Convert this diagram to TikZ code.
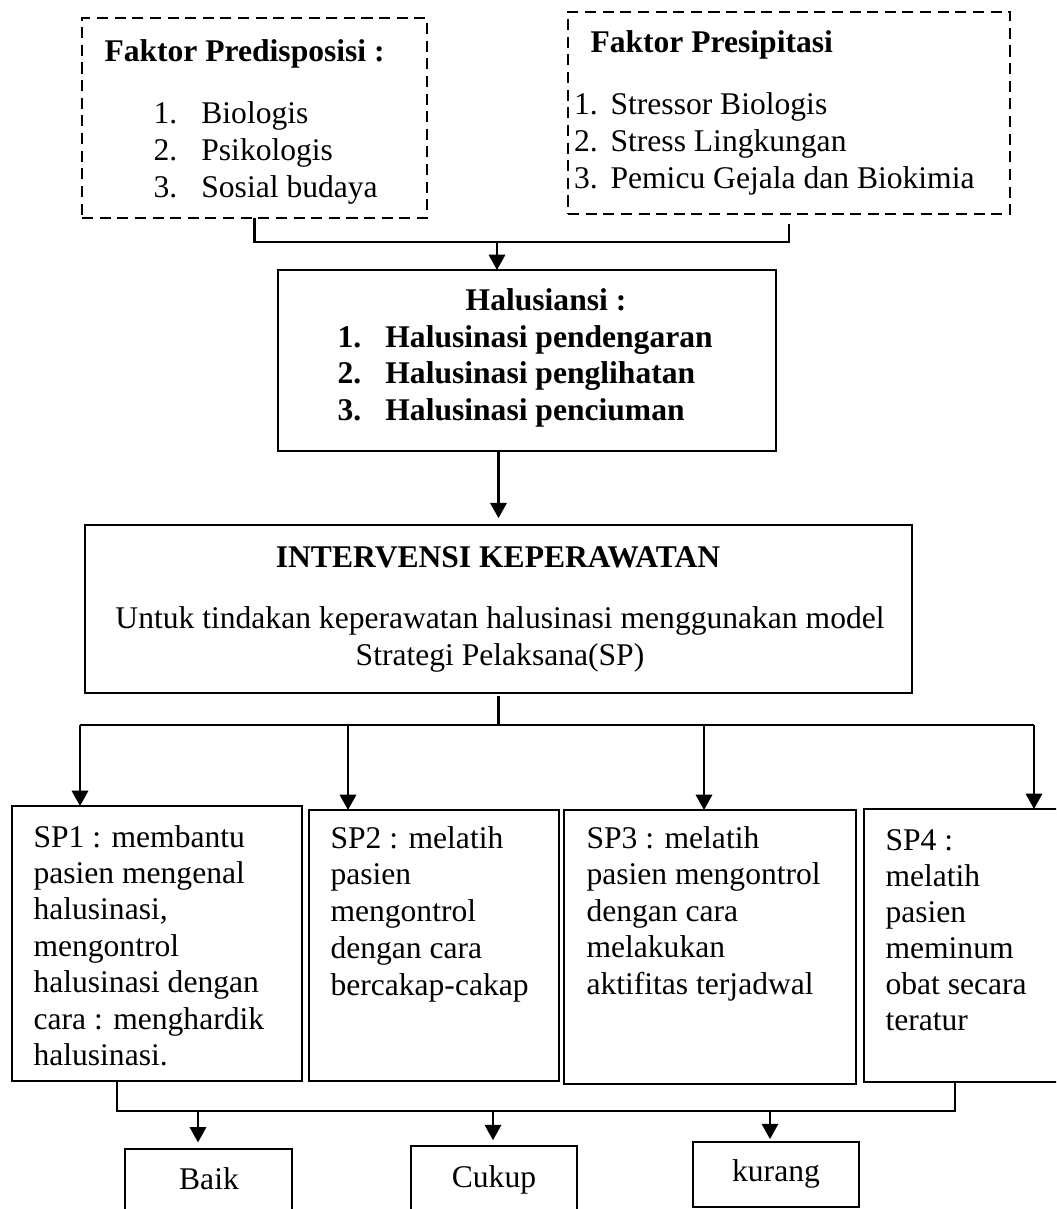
\documentclass[tikz,border=0pt]{standalone}
\usepackage{fontspec}
\setmainfont{Liberation Serif}
\usetikzlibrary{fit,calc,arrows.meta}
\newlength\numw
\newcommand\tlines[3]{\parbox[t]{#1}{\raggedright\baselineskip=#2\relax #3\par}}
\newcommand\nl[2]{\makebox[\numw][l]{#1}#2}
\tikzset{
  ln/.style={line width=0.85pt},
  arr/.style={ln,-{Triangle[length=5.8pt,width=6.2pt]}},
  box/.style={draw,ln,inner sep=0pt,outer sep=0pt},
  dbox/.style={box,line width=0.95pt,dash pattern=on 4.2pt off 2.5pt},
  txt/.style={inner sep=0pt,font=\fontsize{12pt}{14pt}\selectfont},
}
\begin{document}
\begin{tikzpicture}[x=0.38pt,y=-0.38pt]
\useasboundingbox (0,0) rectangle (1056,1209);
\clip (0,0) rectangle (1056,1209);

% boxes
\node[dbox,fit={(82,18) (427,218)}] (pred) {};
\node[dbox,fit={(568,12) (1010,214)}] (pres) {};
\node[box,fit={(278,270) (776,451)}] (hal) {};
\node[box,fit={(85,525) (912,693)}] (int) {};
\node[box,fit={(12,806) (302,1081)}] (sp1) {};
\node[box,fit={(309,810) (559,1081)}] (sp2) {};
\node[box,fit={(564,810) (856,1084)}] (sp3) {};
\node[box,fit={(864,809) (1075,1082)}] (sp4) {};
\node[box,fit={(125,1149) (292,1220)}] (baik) {};
\node[box,fit={(411,1146) (577,1220)}] (cukup) {};
\node[box,fit={(693,1142) (859,1207)}] (kurang) {};

% texts
\node[txt,anchor=base west] (predt) at (104,61) {\textbf{Faktor Predisposisi :}};
\node[txt,anchor=base west] (predl) at (153,123) {\setlength\numw{18.2pt}\tlines{120pt}{14.06pt}{\nl{1.}{Biologis}\\\nl{2.}{Psikologis}\\\nl{3.}{Sosial budaya}}};
\node[txt,anchor=base west] (prest) at (590,52) {\textbf{Faktor Presipitasi}};
\node[txt,anchor=base west] (presl) at (573.5,114.5) {\setlength\numw{13.9pt}\tlines{170pt}{14.1pt}{\nl{1.}{Stressor Biologis}\\\nl{2.}{Stress Lingkungan}\\\nl{3.}{Pemicu Gejala dan Biokimia}}};
\node[txt,anchor=base] (halt) at (546,310) {\textbf{Halusiansi :}};
\node[txt,anchor=base west] (hall) at (337,347) {\bfseries\setlength\numw{18.2pt}\tlines{170pt}{13.87pt}{\nl{1.}{Halusinasi pendengaran}\\\nl{2.}{Halusinasi penglihatan}\\\nl{3.}{Halusinasi penciuman}}};
\node[txt,anchor=base] (intt) at (498,567) {\textbf{INTERVENSI KEPERAWATAN}};
\node[txt,anchor=base] (intl1) at (500,628) {Untuk tindakan keperawatan halusinasi menggunakan model};
\node[txt,anchor=base] (intl2) at (500,665) {Strategi Pelaksana(SP)};
\node[txt,anchor=base west] (sp1t) at (33,847) {\tlines{110pt}{13.85pt}{SP1 : membantu\\pasien mengenal\\halusinasi,\\mengontrol\\halusinasi dengan\\cara : menghardik\\halusinasi.}};
\node[txt,anchor=base west] (sp2t) at (330,848) {\tlines{95pt}{14.0pt}{SP2 : melatih\\pasien\\mengontrol\\dengan cara\\bercakap-cakap}};
\node[txt,anchor=base west] (sp3t) at (586,848) {\tlines{110pt}{13.9pt}{SP3 : melatih\\pasien mengontrol\\dengan cara\\melakukan\\aktifitas terjadwal}};
\node[txt,anchor=base west] (sp4t) at (885,850) {\tlines{70pt}{13.7pt}{SP4 :\\melatih\\pasien\\meminum\\obat secara\\teratur}};
\node[txt,anchor=base] (baikt) at (209,1189) {Baik};
\node[txt,anchor=base] (cukupt) at (494,1187) {Cukup};
\node[txt,anchor=base] (kurangt) at (776,1181) {kurang};

% connectors top
\coordinate (j1) at (497,242);
\draw[ln] (pred.south) |- (j1);
\draw[ln] ($(pres.south)+(0,10)$) |- (j1);
\draw[arr] (j1) -- (j1 |- hal.north);
\draw[arr,shorten >=2.6pt] (hal.south -| int.north) -- (int.north);

% connectors to SP boxes
\coordinate (b1) at (80,725);
\coordinate (b2) at (348,725);
\coordinate (b3) at (704,725);
\coordinate (b4) at (1034,725);
\draw[ln] ($(int.south)+(0,3)$) -- (int.south |- b1);
\draw[ln] (b1) -- (b4);
\draw[arr] (b1) -- (b1 |- sp1.north);
\draw[arr] (b2) -- (b2 |- sp2.north);
\draw[arr] (b3) -- (b3 |- sp3.north);
\draw[arr] (b4) -- (b4 |- sp4.north);

% connectors to results
\coordinate (c1) at (117,1111);
\coordinate (c2) at (955,1111);
\draw[ln] (c1 |- sp1.south) -- (c1) -- (c2) -- (c2 |- sp4.south);
\coordinate (d1) at (198,1111);
\coordinate (d2) at (493,1111);
\coordinate (d3) at (770,1111);
\draw[arr,shorten >=2.5pt] (d1) -- (d1 |- baik.north);
\draw[arr,shorten >=2.2pt] (d2) -- (d2 |- cukup.north);
\draw[arr,shorten >=1.1pt] (d3) -- (d3 |- kurang.north);
\end{tikzpicture}
\end{document}
